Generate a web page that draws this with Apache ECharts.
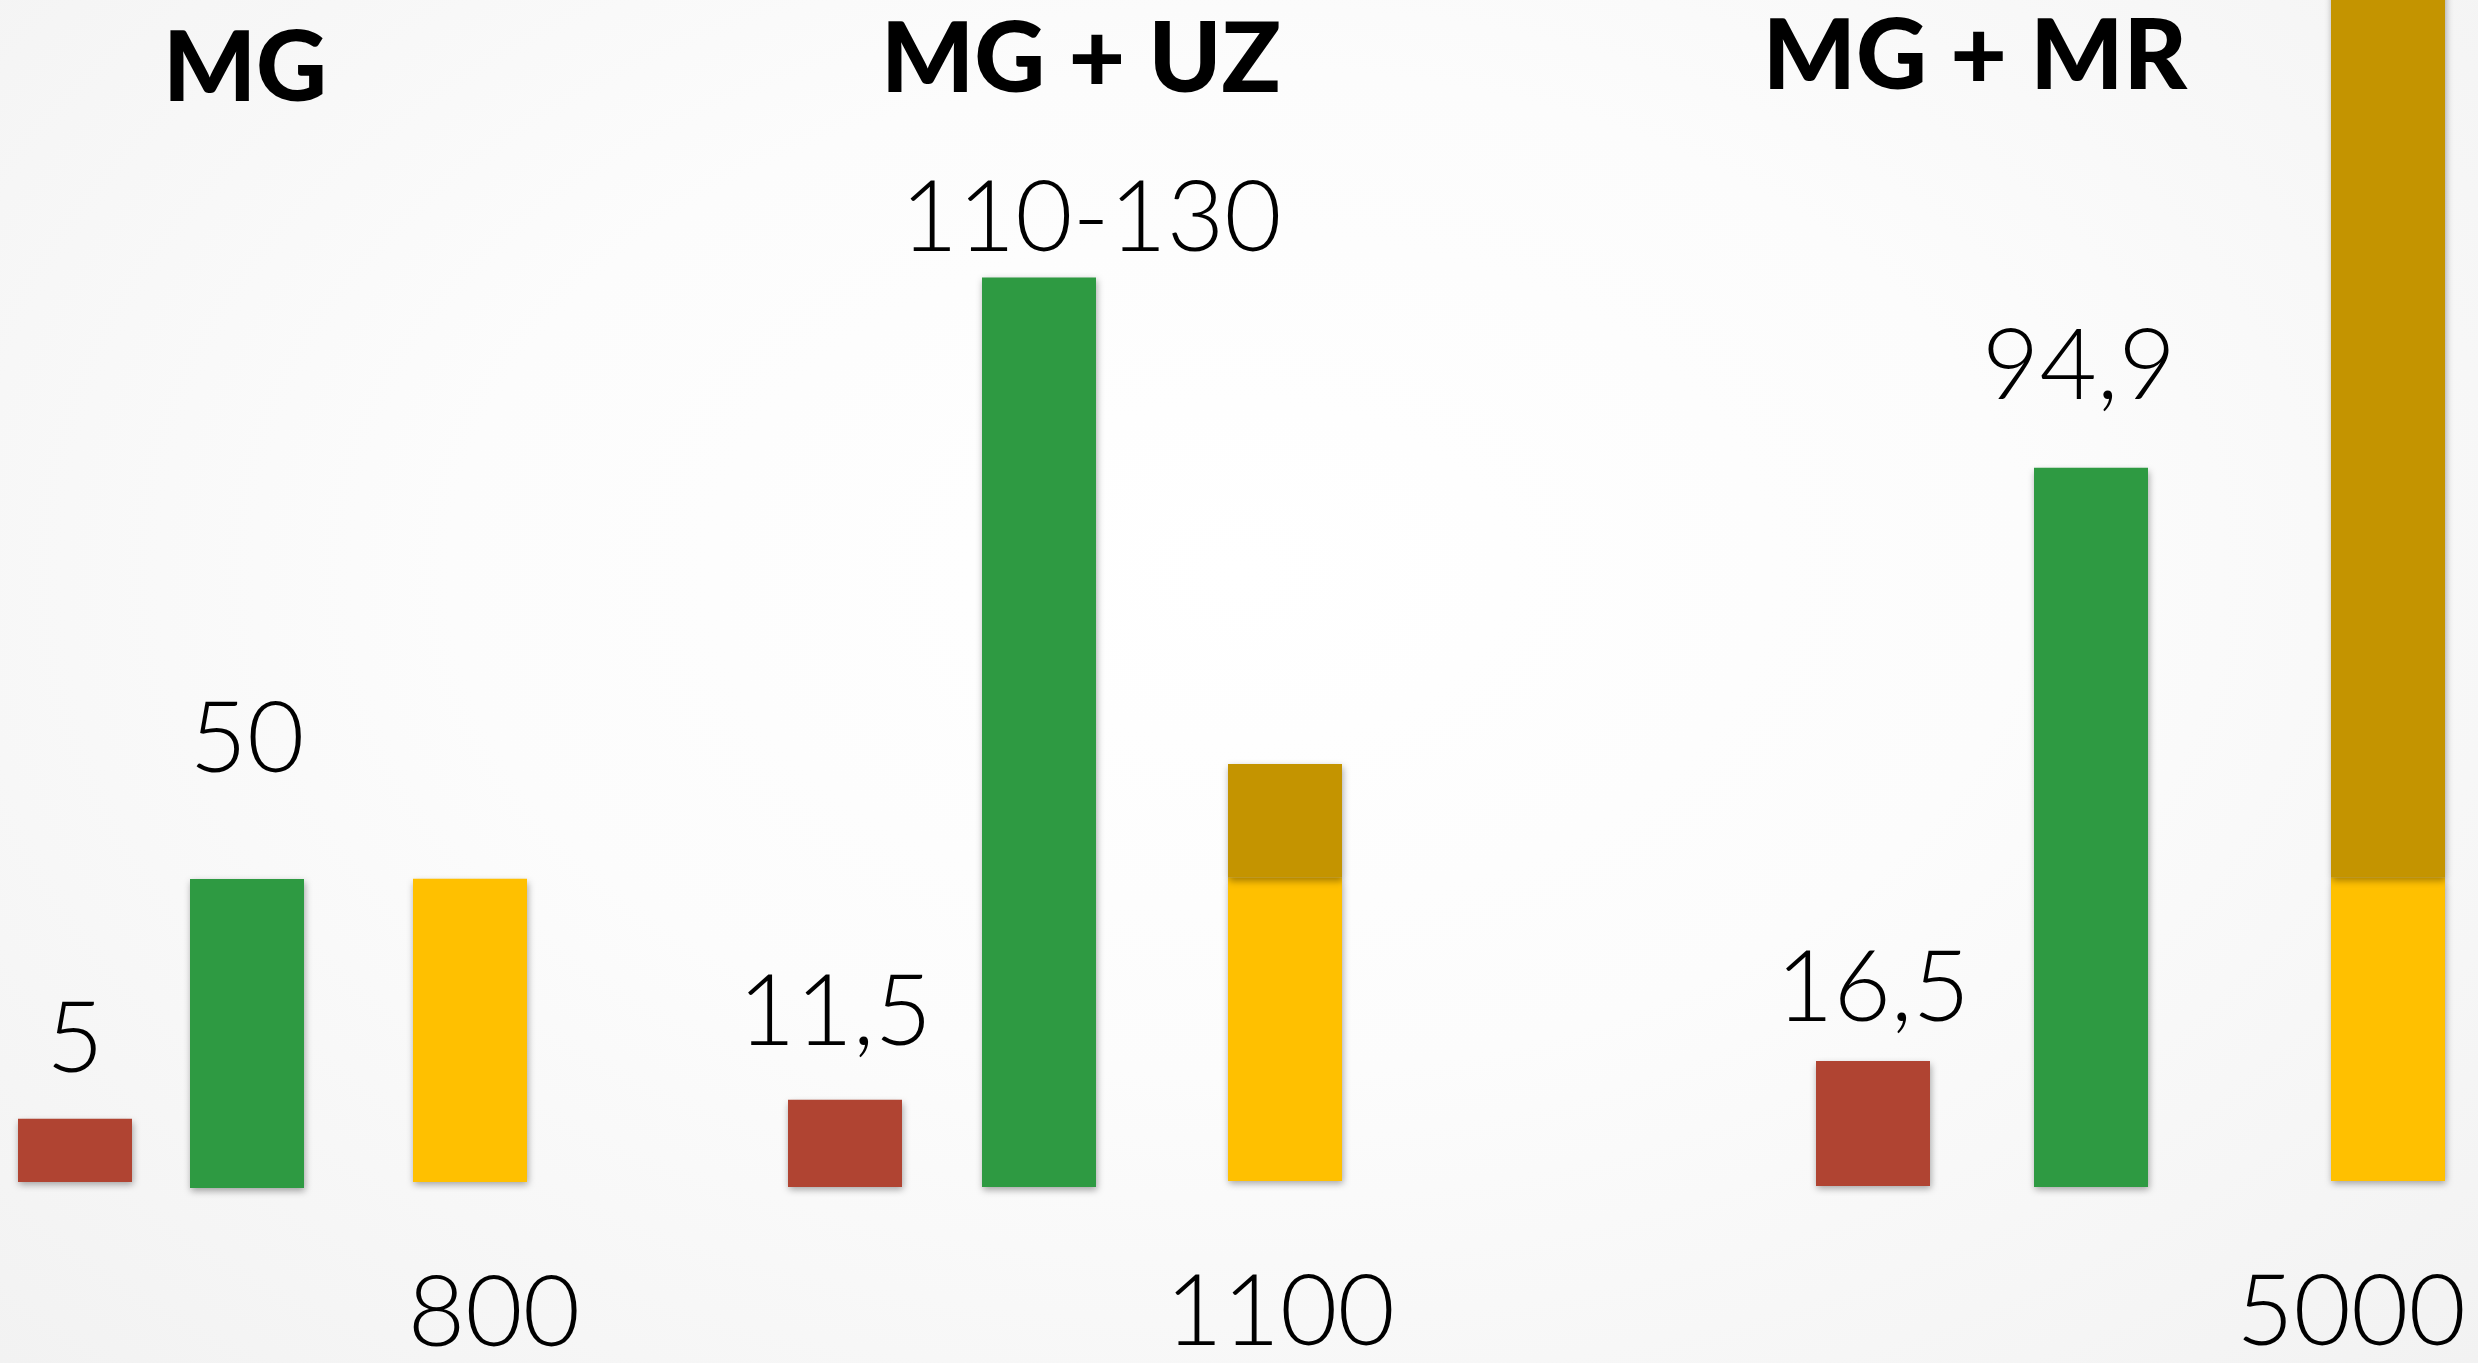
<!DOCTYPE html>
<html>
<head>
<meta charset="utf-8">
<script src="https://cdn.jsdelivr.net/npm/echarts@6/dist/echarts.min.js"></script>
<style>
  html, body { margin: 0; padding: 0; }
  body { background: radial-gradient(ellipse at 50% 42%, #ffffff 0%, #fcfcfc 45%, #f2f2f2 100%); }
  #chart { width: 2478px; height: 1363px; }
</style>
</head>
<body>
<div id="chart"></div>
<script>
// Group headings
const groups = ['MG', 'MG + UZ', 'MG + MR'];

// Red bars
const redValues = [5, 11.5, 16.5];
const redLabels = ['5', '11,5', '16,5'];

// Green bars (the middle group is a 110-130 range, drawn at its midpoint)
const greenValues = [50, 120, 94.9];
const greenLabels = ['50', '110-130', '94,9'];

// Yellow bars: common 800 base, the part above it in dark gold
const yellowBase = 800;
const yellowTotals = [800, 1100, 5000];
const yellowLabels = ['800', '1100', '5000'];

// Placement of every bar (pixels) and the value range of its axis
const PLOT_H = 1137;
const BAR_W = 114;
const layout = [
  { title: { center: 240, top: 14 },
    red:    { left: 18,   baseline: 1182, max: 90,  gap: 29, dx: 0 },
    green:  { left: 190,  baseline: 1188, max: 184, gap: 89, dx: 0 },
    yellow: { left: 413,  baseline: 1182, max: 3000, gap: 83, dx: 24 } },
  { title: { center: 1076, top: 5 },
    red:    { left: 788,  baseline: 1187, max: 150, gap: 37, dx: -10 },
    green:  { left: 982,  baseline: 1187, max: 150, gap: 9, dx: 52 },
    yellow: { left: 1228, baseline: 1181, max: 3000, gap: 83, dx: -5 } },
  { title: { center: 1970, top: 2 },
    red:    { left: 1816, baseline: 1186, max: 150, gap: 22, dx: 0 },
    green:  { left: 2034, baseline: 1187, max: 150, gap: 51, dx: -12 },
    yellow: { left: 2331, baseline: 1181, max: 3000, gap: 83, dx: -37 } }
];

const COLORS = { red: '#B04432', green: '#2E9A42', yellow: '#FFC000', gold: '#C49400' };
const FONT = 'Lato, "Open Sans", sans-serif';

const shadow = {
  shadowBlur: 7,
  shadowColor: 'rgba(0,0,0,0.35)',
  shadowOffsetX: 1,
  shadowOffsetY: 3
};

const valueLabel = {
  show: true,
  fontFamily: FONT,
  fontSize: 99,
  fontWeight: 300,
  lineHeight: 99,
  color: '#000'
};

const grid = [], xAxis = [], yAxis = [], series = [];

function addSlot(slot, groupName, max) {
  const i = grid.length;
  grid.push({ left: slot.left, width: BAR_W, top: slot.baseline - PLOT_H, height: PLOT_H, containLabel: false });
  xAxis.push({ gridIndex: i, type: 'category', data: [groupName], show: false });
  yAxis.push({ gridIndex: i, type: 'value', min: 0, max: max, show: false, splitLine: { show: false } });
  return i;
}

groups.forEach((name, g) => {
  const L = layout[g];

  const ri = addSlot(L.red, name, L.red.max);
  series.push({
    type: 'bar', name: name + ' red', xAxisIndex: ri, yAxisIndex: ri,
    data: [redValues[g]], barWidth: '100%',
    itemStyle: Object.assign({ color: COLORS.red }, shadow),
    label: Object.assign({}, valueLabel, {
      position: 'top', distance: L.red.gap, offset: [L.red.dx, 0],
      formatter: () => redLabels[g]
    })
  });

  const gi = addSlot(L.green, name, L.green.max);
  series.push({
    type: 'bar', name: name + ' green', xAxisIndex: gi, yAxisIndex: gi,
    data: [greenValues[g]], barWidth: '100%',
    itemStyle: Object.assign({ color: COLORS.green }, shadow),
    label: Object.assign({}, valueLabel, {
      position: 'top', distance: L.green.gap, offset: [L.green.dx, 0],
      formatter: () => greenLabels[g]
    })
  });

  const yi = addSlot(L.yellow, name, L.yellow.max);
  const extra = yellowTotals[g] - yellowBase;
  series.push({
    type: 'bar', name: name + ' base', xAxisIndex: yi, yAxisIndex: yi,
    stack: 'y' + g, clip: false,
    data: [Math.min(yellowBase, yellowTotals[g])], barWidth: '100%',
    itemStyle: Object.assign({ color: COLORS.yellow }, shadow),
    label: Object.assign({}, valueLabel, {
      position: 'bottom', distance: L.yellow.gap, offset: [L.yellow.dx, 0],
      formatter: () => yellowLabels[g]
    })
  });
  series.push({
    type: 'bar', name: name + ' extra', xAxisIndex: yi, yAxisIndex: yi,
    stack: 'y' + g, clip: false,
    data: [extra > 0 ? extra : '-'], barWidth: '100%',
    itemStyle: Object.assign({ color: COLORS.gold }, shadow)
  });
});

const titles = groups.map((name, g) => ({
  text: name,
  left: layout[g].title.center,
  top: layout[g].title.top,
  textAlign: 'center',
  textStyle: { fontFamily: FONT, fontSize: 98, fontWeight: 900, color: '#000', lineHeight: 100 }
}));

const chart = echarts.init(document.getElementById('chart'), null, { renderer: 'canvas' });
chart.setOption({
  backgroundColor: 'transparent',
  animation: false,
  title: titles,
  grid: grid,
  xAxis: xAxis,
  yAxis: yAxis,
  series: series
});
</script>
</body>
</html>
